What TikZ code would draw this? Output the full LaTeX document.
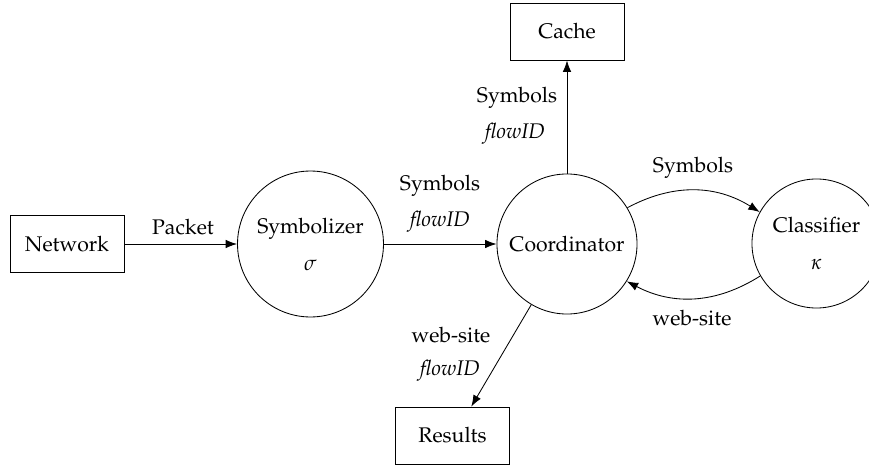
\documentclass[tikz,border=0pt]{standalone}
\usepackage[T1]{fontenc}
\usepackage{mathpazo}
\usetikzlibrary{arrows.meta}

\tikzset{
  box/.style={draw, line width=0.4pt, rectangle, minimum width=53.8pt, minimum height=26.9pt, inner sep=0pt},
  proc/.style={draw, line width=0.4pt, circle, inner sep=0pt, align=center},
  flow/.style={line width=0.4pt, -{Latex[length=5.4pt,width=4pt]}},
  lbl/.style={inner sep=0pt, anchor=center}
}

\begin{document}
\begin{tikzpicture}[x=0.472pt, y=-0.472pt]
  \useasboundingbox (0,0) rectangle (869,465);

  % processes and stores
  \node[box] (net) at (67,244) {Network};
  \node[proc, minimum size=68.9pt] (sym) at (310.5,244) {Symbolizer\\[5.5pt]$\sigma$};
  \node[proc, minimum size=66.1pt] (coord) at (567,244) {Coordinator};
  \node[proc, minimum size=60.9pt] (cls) at (816.5,243.5) {Classifier\\[5.5pt]$\kappa$};
  \node[box] (cache) at (567,31.5) {Cache};
  \node[box] (res) at (452.5,435.5) {Results};

  % data flows
  \draw[flow] (net) -- (sym);
  \draw[flow] (sym) -- (coord);
  \draw[flow] (coord) -- (cache);
  \draw[flow] (coord) -- (res.57);
  \draw[flow] (coord.31) to[bend left=30] (cls.151);
  \draw[flow] (cls.210) to[bend left=30] (coord.-32);

  % flow labels
  \node[lbl] (lpacket) at (183,227) {Packet};
  \node[lbl] (lsym1) at (440,186) {Symbols};
  \node[lbl] (lfid1) at (440,222) {\textit{flowID}};
  \node[lbl] (lsym2) at (517,98) {Symbols};
  \node[lbl] (lfid2) at (515,134) {\textit{flowID}};
  \node[lbl] (lsym3) at (693,168) {Symbols};
  \node[lbl] (lweb1) at (692,318) {web-site};
  \node[lbl] (lweb2) at (451,335) {web-site};
  \node[lbl] (lfid3) at (450,371) {\textit{flowID}};
\end{tikzpicture}
\end{document}
